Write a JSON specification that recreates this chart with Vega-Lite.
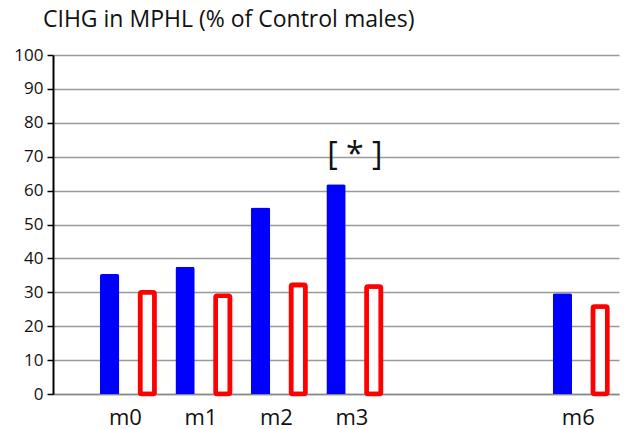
{
  "$schema": "https://vega.github.io/schema/vega-lite/v6.json",
  "autosize": "none",
  "width": 566,
  "height": 339,
  "padding": {"left": 53, "top": 55, "right": 18, "bottom": 35},
  "background": "white",
  "title": {
    "text": "CIHG in MPHL (% of Control males)",
    "anchor": "start",
    "frame": "group",
    "dx": -10,
    "offset": -4,
    "baseline": "alphabetic",
    "font": "Open Sans",
    "fontSize": 23,
    "fontWeight": "normal",
    "color": "#111"
  },
  "config": {
    "view": {"stroke": null},
    "axis": {"labelFont": "Open Sans", "labelColor": "#111"}
  },
  "datasets": {
    "bars": [
      {"month": "m0", "group": "A", "value": 35.4},
      {"month": "m0", "group": "B", "value": 30.0},
      {"month": "m1", "group": "A", "value": 37.5},
      {"month": "m1", "group": "B", "value": 29.0},
      {"month": "m2", "group": "A", "value": 55.0},
      {"month": "m2", "group": "B", "value": 32.2},
      {"month": "m3", "group": "A", "value": 61.9},
      {"month": "m3", "group": "B", "value": 31.7},
      {"month": "m6", "group": "A", "value": 29.7},
      {"month": "m6", "group": "B", "value": 25.8}
    ],
    "notes": [
      {"month": "m3", "value": 70.5, "label": "[ * ]"}
    ]
  },
  "encoding": {
    "x": {
      "field": "month",
      "type": "nominal",
      "scale": {"domain": ["m0", "m1", "m2", "m3", "m4", "m5", "m6"], "paddingInner": 0, "paddingOuter": 0.25, "align": 1},
      "axis": {
        "title": null,
        "labelAngle": 0,
        "labelExpr": "datum.value == 'm4' || datum.value == 'm5' ? '' : datum.value",
        "labelFontSize": 22,
        "labelPadding": 13,
        "labelOffset": -3,
        "ticks": false,
        "domainColor": "#888",
        "domainWidth": 1.5,
        "grid": false
      }
    },
    "y": {
      "field": "value",
      "type": "quantitative",
      "scale": {"domain": [0, 100]},
      "axis": {
        "title": null,
        "values": [0, 10, 20, 30, 40, 50, 60, 70, 80, 90, 100],
        "labelFontSize": 17,
        "labelPadding": 4,
        "tickSize": 6,
        "tickColor": "#000",
        "tickWidth": 1.5,
        "domainColor": "#000",
        "domainWidth": 2,
        "grid": true,
        "gridColor": "#999",
        "gridWidth": 1.5
      }
    }
  },
  "layer": [
    {
      "data": {"name": "bars"},
      "transform": [{"filter": "datum.group == 'A'"}],
      "mark": {"type": "bar", "color": "#0000ff", "width": 19.3, "cornerRadiusTopLeft": 2, "cornerRadiusTopRight": 2},
      "encoding": {
        "xOffset": {"field": "group", "type": "nominal", "scale": {"domain": ["A", "B"], "paddingInner": 0.5, "paddingOuter": 0.25}}
      }
    },
    {
      "data": {"name": "bars"},
      "transform": [{"filter": "datum.group == 'B'"}],
      "mark": {"type": "bar", "fill": "white", "stroke": "#ff0000", "strokeWidth": 4.6, "width": 14.4, "cornerRadius": 1.5},
      "encoding": {
        "xOffset": {"field": "group", "type": "nominal", "scale": {"domain": ["A", "B"], "paddingInner": 0.5, "paddingOuter": 0.25}}
      }
    },
    {
      "data": {"name": "notes"},
      "mark": {"type": "text", "font": "Open Sans", "fontSize": 32, "color": "#111", "baseline": "middle", "align": "center"},
      "encoding": {
        "text": {"field": "label"}
      }
    }
  ]
}
